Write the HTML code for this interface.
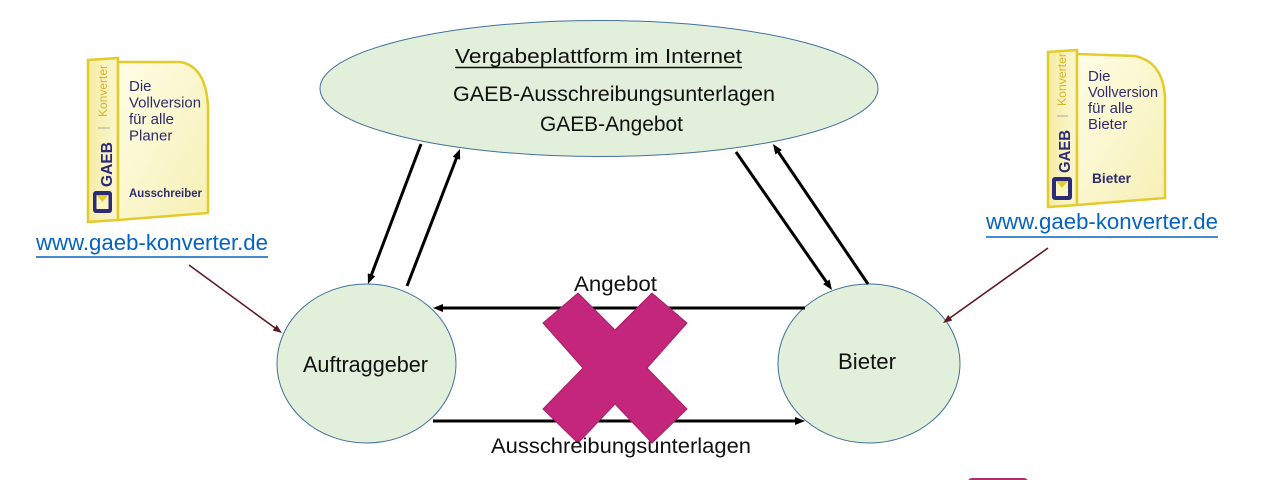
<!DOCTYPE html>
<html>
<head>
<meta charset="utf-8">
<style>
  html,body{margin:0;padding:0;background:#fff;}
  svg{display:block;}
  text{font-family:"Liberation Sans",Arial,sans-serif;}
</style>
</head>
<body>
<svg width="1280" height="480" viewBox="0 0 1280 480" xmlns="http://www.w3.org/2000/svg">
  <defs>
    <marker id="ah" markerWidth="10" markerHeight="8" refX="2" refY="4" orient="auto" markerUnits="userSpaceOnUse">
      <path d="M0,0 L10,4 L0,8 z" fill="#000"/>
    </marker>
    <marker id="ahb" markerWidth="9" markerHeight="7" refX="2" refY="3.5" orient="auto" markerUnits="userSpaceOnUse">
      <path d="M0,0 L9,3.5 L0,7 z" fill="#5E1A23"/>
    </marker>
    <linearGradient id="face" x1="0" y1="0" x2="1" y2="1">
      <stop offset="0" stop-color="#FFFDE6"/>
      <stop offset="1" stop-color="#F6F0B4"/>
    </linearGradient>
    <linearGradient id="spine" x1="0" y1="0" x2="1" y2="0">
      <stop offset="0" stop-color="#F4EDA6"/>
      <stop offset="1" stop-color="#FBF7CF"/>
    </linearGradient>
  </defs>

  <!-- Left box (Ausschreiber) -->
  <g>
    <path d="M88,60 L118,58 L118,220 L88,222 Z" fill="url(#spine)" stroke="#E3CB2C" stroke-width="2.5"/>
    <path d="M118,62 L180,62 Q206,66 208,107 L208,213 L118,220 Z" fill="url(#face)" stroke="#E3CB2C" stroke-width="2.5"/>
    <text transform="translate(107,91) rotate(-90)" text-anchor="middle" font-size="12" fill="#D6B42C" textLength="52" lengthAdjust="spacingAndGlyphs">Konverter</text>
    <line x1="98" y1="128" x2="110" y2="128" stroke="#A8A8A8" stroke-width="1"/>
    <text transform="translate(112,164.5) rotate(-90)" text-anchor="middle" font-size="16" font-weight="bold" fill="#2D2A78" textLength="45" lengthAdjust="spacingAndGlyphs">GAEB</text>
    <rect x="93" y="191" width="19" height="22" rx="3" fill="#2D2A78"/>
    <rect x="96.5" y="195" width="12" height="14" fill="#FBF5C0"/>
    <path d="M96.5,195 L102.5,202 L108.5,195 Z" fill="#E3CB2C"/>
    <text x="129" y="91" font-size="15" fill="#2E2B6F">Die</text>
    <text x="129" y="107.5" font-size="15" fill="#2E2B6F" textLength="72" lengthAdjust="spacingAndGlyphs">Vollversion</text>
    <text x="129" y="124" font-size="15" fill="#2E2B6F">für alle</text>
    <text x="129" y="140.5" font-size="15" fill="#2E2B6F">Planer</text>
    <text x="129" y="197" font-size="12" font-weight="bold" fill="#2E2B6F" textLength="73" lengthAdjust="spacingAndGlyphs">Ausschreiber</text>
  </g>

  <!-- Right box (Bieter) -->
  <g>
    <path d="M1048,52 L1077,50 L1077,205 L1048,207 Z" fill="url(#spine)" stroke="#E3CB2C" stroke-width="2.5"/>
    <path d="M1077,54 L1135,56 Q1163,62 1165,97 L1165,198 L1077,205 Z" fill="url(#face)" stroke="#E3CB2C" stroke-width="2.5"/>
    <text transform="translate(1066,79.5) rotate(-90)" text-anchor="middle" font-size="12" fill="#D6B42C" textLength="53" lengthAdjust="spacingAndGlyphs">Konverter</text>
    <line x1="1057" y1="116" x2="1068" y2="116" stroke="#A8A8A8" stroke-width="1"/>
    <text transform="translate(1070,151.5) rotate(-90)" text-anchor="middle" font-size="16" font-weight="bold" fill="#2D2A78" textLength="43" lengthAdjust="spacingAndGlyphs">GAEB</text>
    <rect x="1052" y="177" width="20" height="23" rx="3" fill="#2D2A78"/>
    <rect x="1056" y="181" width="12" height="15" fill="#FBF5C0"/>
    <path d="M1056,181 L1062,188 L1068,181 Z" fill="#E3CB2C"/>
    <text x="1088" y="81" font-size="15" fill="#2E2B6F">Die</text>
    <text x="1088" y="97" font-size="15" fill="#2E2B6F" textLength="70" lengthAdjust="spacingAndGlyphs">Vollversion</text>
    <text x="1088" y="113" font-size="15" fill="#2E2B6F">für alle</text>
    <text x="1088" y="129" font-size="15" fill="#2E2B6F">Bieter</text>
    <text x="1092" y="183" font-size="14" font-weight="bold" fill="#2E2B6F" textLength="39" lengthAdjust="spacingAndGlyphs">Bieter</text>
  </g>

  <!-- URLs -->
  <text x="36" y="250" font-size="22" fill="#0563C1" textLength="232" lengthAdjust="spacingAndGlyphs">www.gaeb-konverter.de</text>
  <line x1="36" y1="257" x2="268" y2="257" stroke="#0563C1" stroke-width="1.5"/>
  <text x="986" y="229" font-size="22" fill="#0563C1" textLength="232" lengthAdjust="spacingAndGlyphs">www.gaeb-konverter.de</text>
  <line x1="986" y1="237" x2="1218" y2="237" stroke="#0563C1" stroke-width="1.5"/>

  <!-- Ellipse -->
  <ellipse cx="599" cy="88.5" rx="279" ry="68" fill="#E2EFDA" stroke="#41719C" stroke-width="1"/>
  <text x="455" y="63" font-size="20" fill="#111" textLength="287" lengthAdjust="spacingAndGlyphs">Vergabeplattform im Internet</text>
  <line x1="455" y1="67.5" x2="742" y2="67.5" stroke="#111" stroke-width="1.5"/>
  <text x="453" y="101" font-size="21" fill="#111" textLength="322" lengthAdjust="spacingAndGlyphs">GAEB-Ausschreibungsunterlagen</text>
  <text x="540" y="131" font-size="21" fill="#111" textLength="143" lengthAdjust="spacingAndGlyphs">GAEB-Angebot</text>

  <!-- Circles -->
  <ellipse cx="366.5" cy="363.5" rx="89.5" ry="79.5" fill="#E2EFDA" stroke="#41719C" stroke-width="1"/>
  <ellipse cx="869" cy="363.5" rx="91" ry="79.5" fill="#E2EFDA" stroke="#41719C" stroke-width="1"/>
  <text x="303" y="372" font-size="22" fill="#111" textLength="125" lengthAdjust="spacingAndGlyphs">Auftraggeber</text>
  <text x="838" y="369" font-size="22" fill="#111" textLength="58" lengthAdjust="spacingAndGlyphs">Bieter</text>

  <!-- Black arrows -->
  <g stroke="#000" stroke-width="3" fill="none">
    <line x1="421" y1="144" x2="370.8" y2="276.5" marker-end="url(#ah)"/>
    <line x1="407" y1="286" x2="457.1" y2="156.5" marker-end="url(#ah)"/>
    <line x1="736" y1="152" x2="827.4" y2="283.4" marker-end="url(#ah)"/>
    <line x1="868" y1="284" x2="777.5" y2="150.6" marker-end="url(#ah)"/>
    <line x1="805" y1="308" x2="441" y2="308" marker-end="url(#ah)"/>
    <line x1="433" y1="421" x2="797" y2="421" marker-end="url(#ah)"/>
  </g>

  <!-- Brown arrows -->
  <g stroke="#5E1A23" stroke-width="1.6" fill="none">
    <line x1="189" y1="265" x2="276.3" y2="328.9" marker-end="url(#ahb)"/>
    <line x1="1048" y1="248" x2="948.7" y2="318.9" marker-end="url(#ahb)"/>
  </g>

  <!-- Red X -->
  <polygon points="578,293 615,330 652,293 687,323 647,368 687,409 652,443 615,404 578,443 543,409 583,368 543,323"
           fill="#C3267B" stroke="#A7206A" stroke-width="1"/>

  <!-- Labels -->
  <text x="574" y="291" font-size="21" fill="#111" textLength="83" lengthAdjust="spacingAndGlyphs">Angebot</text>
  <text x="491" y="453" font-size="21" fill="#111" textLength="260" lengthAdjust="spacingAndGlyphs">Ausschreibungsunterlagen</text>

  <!-- small magenta shape at bottom -->
  <rect x="968" y="478" width="60" height="8" rx="4" fill="#B0306E"/>
</svg>
</body>
</html>
